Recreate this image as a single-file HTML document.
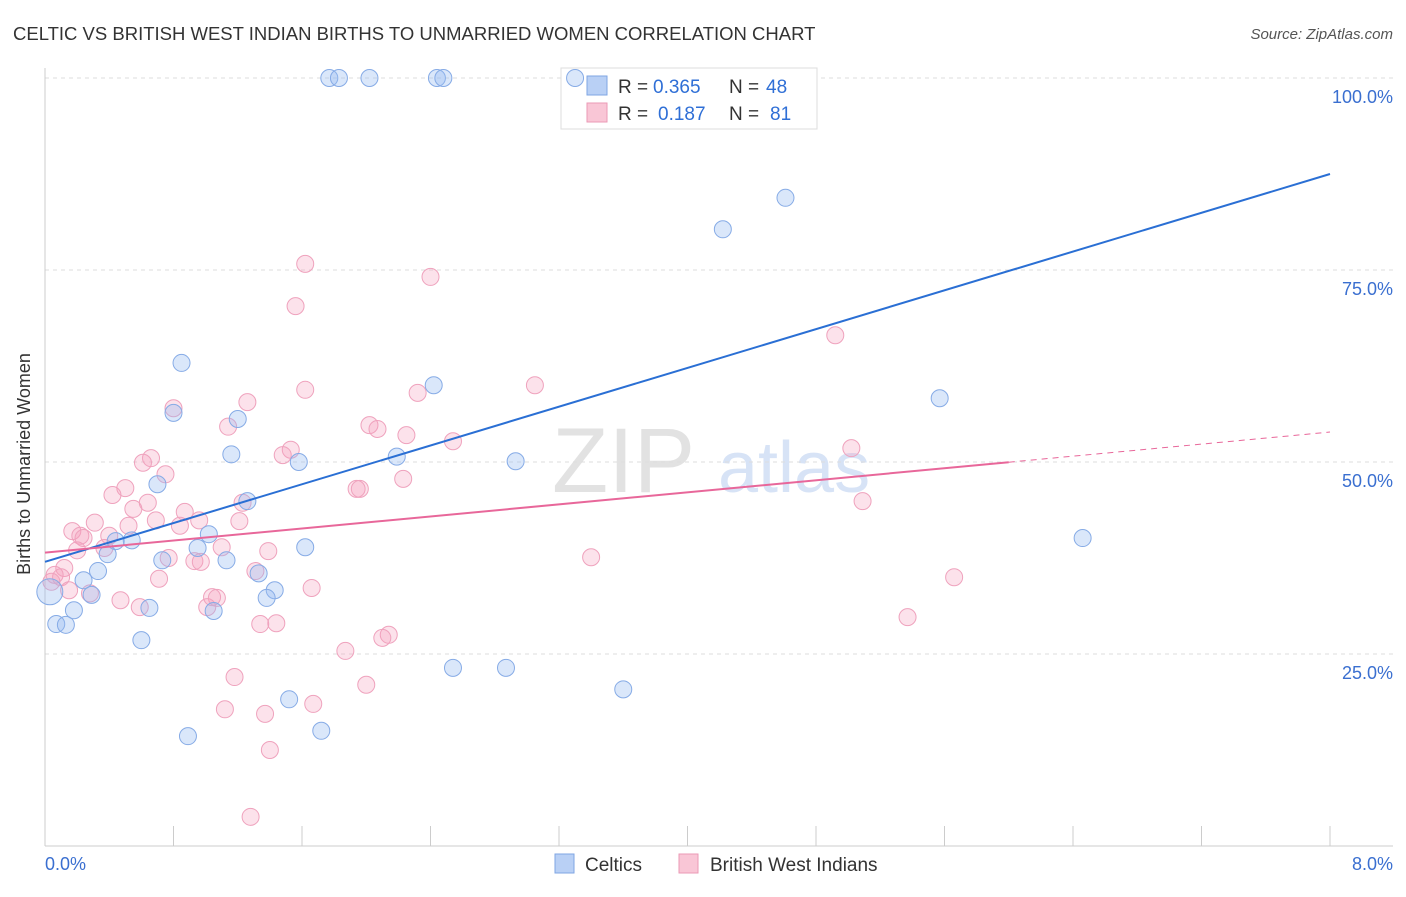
<!DOCTYPE html>
<html><head><meta charset="utf-8"><style>
body{margin:0;background:#fff;font-family:"Liberation Sans",sans-serif;}
svg text{font-family:"Liberation Sans",sans-serif;}
</style></head><body>
<svg width="1406" height="892" xmlns="http://www.w3.org/2000/svg" id="chart">
<text x="13" y="40" font-size="18.5" fill="#333">CELTIC VS BRITISH WEST INDIAN BIRTHS TO UNMARRIED WOMEN CORRELATION CHART</text>
<text x="1393" y="39" font-size="15" fill="#555" text-anchor="end" font-style="italic">Source: ZipAtlas.com</text>
<g opacity="0.55">
<text x="552" y="492" font-size="92" fill="#ccc" font-family="Liberation Serif">ZIP</text>
<text x="718" y="492" font-size="72" fill="#b8cdef">atlas</text>
</g>
<g id="grid"></g>
<g id="axes"></g>
<g>
<rect x="561" y="68" width="256" height="61" fill="#fff" stroke="#ddd"/>
<rect x="587" y="76" width="20" height="19" fill="#b9d0f5" stroke="#7fa6e3"/>
<rect x="587" y="103" width="20" height="19" fill="#f9c6d6" stroke="#eb9ab6"/>
<text x="618" y="93" font-size="19" fill="#333">R =</text>
<text x="653" y="93" font-size="19" fill="#2f6fd6">0.365</text>
<text x="729" y="93" font-size="19" fill="#333">N =</text>
<text x="766" y="93" font-size="19" fill="#2f6fd6">48</text>
<text x="618" y="120" font-size="19" fill="#333">R =</text>
<text x="658" y="120" font-size="19" fill="#2f6fd6">0.187</text>
<text x="729" y="120" font-size="19" fill="#333">N =</text>
<text x="770" y="120" font-size="19" fill="#2f6fd6">81</text>
</g>
<g id="pts"></g>
<g id="lines"></g>
<g>
<rect x="555" y="854" width="19" height="19" fill="#b9d0f5" stroke="#7fa6e3"/>
<text x="585" y="871" font-size="19" fill="#333">Celtics</text>
<rect x="679" y="854" width="19" height="19" fill="#f9c6d6" stroke="#eb9ab6"/>
<text x="710" y="871" font-size="19" fill="#333">British West Indians</text>
</g>
<text x="22" y="456" font-size="18" fill="#333" transform="rotate(-90 30 456)" text-anchor="middle">Births to Unmarried Women</text>
</svg>
<script>
const yTicks=[25,50,75,100];
const yTickLabels=["25.0%","50.0%","75.0%","100.0%"];
const xTicks=[0,0.8,1.6,2.4,3.2,4.0,4.8,5.6,6.4,7.2,8.0];
const xTickLabels=["0.0%","8.0%"];
const celticX=[1.77,1.83,2.02,2.44,2.48,3.30,4.61,4.22,0.85,2.42,5.57,0.80,1.20,1.16,1.58,2.19,2.93,0.70,1.26,6.46,0.54,0.44,0.39,0.95,1.02,1.62,0.73,1.13,0.33,0.24,1.33,1.43,0.29,1.38,0.03,0.18,0.65,1.05,0.07,0.13,0.60,2.54,2.87,3.60,1.52,0.89,1.72];
const celticY=[100,100,100,100,100,100,84.4,80.3,62.9,60.0,58.3,56.4,55.6,51.0,50.0,50.7,50.1,47.1,44.9,40.1,39.8,39.7,38.0,38.8,40.6,38.9,37.2,37.2,35.8,34.6,35.5,33.3,32.7,32.3,33.1,30.7,31.0,30.6,28.9,28.8,26.8,23.2,23.2,20.4,19.1,14.3,15.0];
const bwiX=[1.62,2.40,1.56,4.92,3.05,1.62,2.32,1.26,0.80,1.14,2.02,2.07,2.25,2.54,1.53,1.48,5.02,0.66,0.61,0.75,1.94,1.96,2.23,0.50,0.42,0.64,1.23,5.09,0.55,0.87,0.96,0.84,0.69,1.21,0.31,0.52,0.17,0.22,0.24,0.40,0.37,1.10,0.20,1.39,0.77,0.93,0.97,3.40,0.12,0.06,0.10,1.31,0.71,5.66,0.04,0.15,0.28,1.66,0.47,0.59,1.04,1.07,1.01,5.37,1.34,1.44,2.14,2.10,1.87,1.18,2.00,1.67,1.12,1.37,1.40,1.28];
const bwiY=[75.8,74.1,70.3,66.5,60.0,59.4,59.0,57.8,57.0,54.6,54.8,54.3,53.5,52.7,51.6,50.9,51.8,50.5,49.9,48.4,46.5,46.5,47.8,46.6,45.7,44.7,44.7,44.9,43.9,43.5,42.4,41.7,42.4,42.3,42.1,41.7,41.0,40.4,40.1,40.4,38.8,38.9,38.5,38.4,37.5,37.1,37.0,37.6,36.2,35.3,35.0,35.8,34.8,35.0,34.4,33.3,32.9,33.6,32.0,31.1,32.4,32.3,31.1,29.8,28.9,29.0,27.5,27.1,25.4,22.0,21.0,18.5,17.8,17.2,12.5,3.8];
const celticTrend=[37.0,87.5];
const bwiTrend=[38.2,53.9];
const bwiSolidEnd=6.0;
const NS="http://www.w3.org/2000/svg";
const sx=v=>45+v*160.625, sy=v=>846-v*7.68;
function mk(t,a,p){const e=document.createElementNS(NS,t);for(const k in a)e.setAttribute(k,a[k]);p.appendChild(e);return e;}
const grid=document.getElementById('grid'),axes=document.getElementById('axes'),pts=document.getElementById('pts'),lines=document.getElementById('lines');
yTicks.forEach((t,i)=>{
 const l=mk('line',{x1:45,x2:1393,y1:sy(t),y2:sy(t),stroke:'#ddd','stroke-dasharray':'4,4'},grid);
 
 
 const tx=mk('text',{x:1393,y:sy(t)+25,'font-size':18,fill:'#3a6fd0','text-anchor':'end'},axes);
 tx.textContent=yTickLabels[i];
 
 
});
const al=mk('line',{x1:45,x2:45,y1:68,y2:846,stroke:'#ccc'},axes);


const bl=mk('line',{x1:45,x2:1393,y1:846,y2:846,stroke:'#ccc'},axes);


xTicks.forEach(t=>{
 const l=mk('line',{x1:sx(t),x2:sx(t),y1:826,y2:846,stroke:'#ccc'},axes);
 
 
});
[[0,'start',xTickLabels[0]],[8,'end',xTickLabels[1]]].forEach(([v,a,s])=>{
 const tx=mk('text',{x:v==0?45:1393,y:870,'font-size':18,fill:'#3a6fd0','text-anchor':a},axes);
 tx.textContent=s;
 
 
});
bwiX.forEach((x,i)=>{
 const c=mk('circle',{cx:sx(x),cy:sy(bwiY[i]),r:8.5,fill:'rgba(245,160,190,0.3)',stroke:'#efa2bd','stroke-width':1},pts);
 
 
});
celticX.forEach((x,i)=>{
 const c=mk('circle',{cx:sx(x),cy:sy(celticY[i]),r:i==34?13:8.5,fill:'rgba(150,185,240,0.35)',stroke:'#86abe6','stroke-width':1},pts);
 
 
});
const cl=mk('line',{x1:sx(0),y1:sy(celticTrend[0]),x2:sx(8),y2:sy(celticTrend[1]),stroke:'#2a6fd4','stroke-width':2},lines);


const ym=bwiTrend[0]+(bwiTrend[1]-bwiTrend[0])*bwiSolidEnd/8;
const pl=mk('line',{x1:sx(0),y1:sy(bwiTrend[0]),x2:sx(bwiSolidEnd),y2:sy(ym),stroke:'#e8679a','stroke-width':2},lines);


const pd=mk('line',{x1:sx(bwiSolidEnd),y1:sy(ym),x2:sx(8),y2:sy(bwiTrend[1]),stroke:'#e8679a','stroke-width':1,'stroke-dasharray':'6,5'},lines);


</script>
</body></html>
